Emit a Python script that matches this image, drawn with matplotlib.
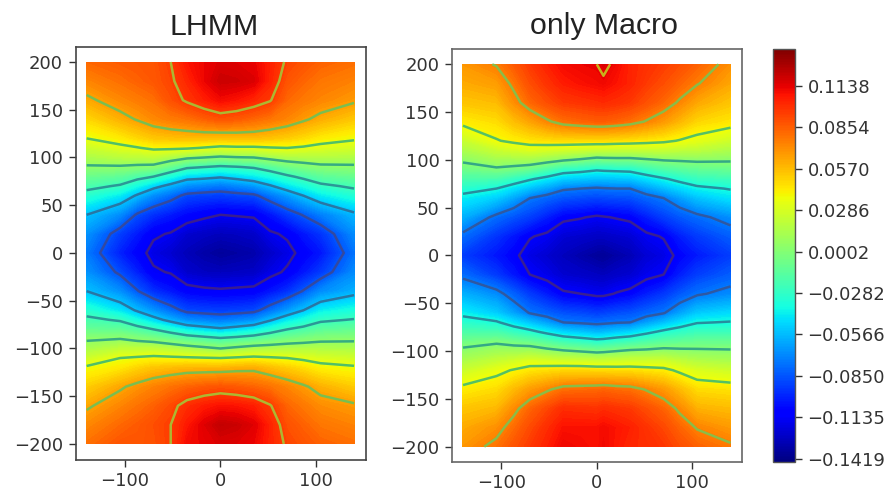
import numpy as np
import matplotlib
matplotlib.use("Agg")
import matplotlib.pyplot as plt
from matplotlib.cm import ScalarMappable
from matplotlib.colors import Normalize

titles = ["LHMM", "only Macro"]
y_rows = [200,180,160,140,120,110,100,90,80,70,60,40,20,0,-20,-40,-60,-70,-80,-90,-100,-110,-120,-140,-160,-180,-200]

# values, in thousandths, one list per x position
lhmm_x = [-140,-105,-87,-70,-52,-35,-17,0,17,35,52,70,87,105,140]
lhmm_m140 = [82,73,62,48,35,24,14,3,-9,-20,-32,-55,-68,-75,-68,-55,-32,-21,-10,3,13,25,37,51,63,72,80]
lhmm_m105 = [86,80,72,60,42,31,18,3,-13,-27,-44,-70,-92,-100,-88,-69,-45,-27,-12,5,20,35,43,63,73,82,88]
lhmm_m87 = [87,84,76,66,48,34,19,1,-19,-39,-57,-87,-102,-110,-100,-84,-57,-38,-18,1,20,37,49,69,79,86,88]
lhmm_m70 = [88,87,80,72,53,38,20,0,-25,-50,-70,-96,-113,-119,-113,-96,-68,-49,-25,-2,20,39,54,74,84,90,89]
lhmm_m52 = [95,93,89,76,55,38,14,-11,-37,-60,-79,-102,-116,-124,-116,-103,-79,-60,-34,-8,17,38,56,79,91,95,95]
lhmm_m35 = [107,102,97,79,56,37,8,-22,-48,-70,-89,-108,-124,-130,-125,-110,-89,-70,-43,-14,13,37,58,83,100,106,110]
lhmm_m17 = [112,112,104,84,56,34,5,-25,-50,-73,-91,-112,-127,-134,-128,-112,-91,-73,-48,-18,9,36,58,86,105,115,113]
lhmm_0 = [116,120,110,88,55,31,2,-28,-53,-76,-92,-115,-129,-137,-129,-113,-92,-76,-52,-22,5,35,58,88,108,122,116]
lhmm_p17 = [115,119,107,86,56,32,4,-26,-49,-72,-90,-114,-128,-135,-128,-112,-91,-73,-48,-19,9,37,60,86,107,120,115]
lhmm_p35 = [113,116,102,82,56,32,5,-23,-44,-67,-88,-113,-126,-133,-127,-111,-89,-69,-43,-15,13,39,61,83,104,115,112]
lhmm_p52 = [104,103,96,78,54,34,10,-16,-37,-57,-77,-104,-117,-126,-119,-104,-78,-57,-34,-10,14,37,56,79,96,103,103]
lhmm_p70 = [93,88,82,73,51,35,14,-8,-28,-46,-66,-93,-113,-119,-113,-96,-66,-45,-25,-5,15,35,51,73,83,89,93]
lhmm_p87 = [88,83,77,67,47,33,15,-3,-21,-38,-55,-84,-103,-111,-103,-84,-55,-37,-20,-2,15,32,46,67,77,84,88]
lhmm_p105 = [84,78,73,61,42,30,16,1,-14,-29,-44,-74,-95,-103,-93,-70,-43,-28,-14,1,15,29,40,60,71,78,84]
lhmm_p140 = [80,74,67,53,37,27,15,2,-10,-22,-34,-58,-70,-77,-70,-60,-36,-24,-11,2,14,26,37,52,67,74,80]
lhmm_levels = [-115,-85,-55,-25,5,35,65,95]

macro_x = [-140,-105,-87,-70,-52,-35,-17,0,7,21,35,52,70,87,105,140]
macro_m140 = [68,62,54,42,23,14,3,-8,-20,-32,-43,-60,-79,-92,-79,-60,-42,-31,-19,-7,4,14,24,42,54,62,68]
macro_m105 = [76,66,57,47,37,23,11,-3,-21,-38,-52,-79,-95,-103,-93,-70,-52,-36,-20,-3,10,22,34,47,58,70,79]
macro_m87 = [86,78,70,56,41,27,11,-6,-28,-47,-63,-86,-103,-110,-103,-82,-64,-46,-27,-7,10,26,39,57,71,81,88]
macro_m70 = [96,90,82,64,44,30,11,-10,-36,-56,-75,-92,-112,-119,-113,-93,-76,-55,-33,-10,11,30,44,66,83,91,96]
macro_m52 = [104,98,90,73,46,28,7,-19,-44,-64,-81,-101,-116,-124,-118,-102,-82,-65,-42,-17,6,28,46,73,92,100,104]
macro_m35 = [110,105,96,80,47,26,2,-29,-52,-73,-86,-110,-123,-129,-124,-111,-87,-75,-50,-24,2,26,48,80,100,108,112]
macro_m17 = [112,108,98,83,47,24,-2,-32,-54,-75,-88,-112,-125,-133,-126,-113,-89,-77,-54,-28,-1,25,48,81,99,108,110]
macro_0 = [113,110,100,85,47,22,-7,-36,-56,-77,-90,-115,-127,-137,-128,-116,-92,-79,-58,-32,-4,23,47,82,98,108,108]
macro_p7 = [116,111,101,85,47,22,-6,-35,-56,-76,-89,-114,-127,-138,-129,-116,-91,-78,-57,-31,-3,23,47,83,100,110,111]
macro_p21 = [110,107,99,83,46,21,-5,-34,-55,-75,-88,-112,-125,-134,-126,-112,-88,-76,-53,-27,0,24,46,81,98,107,106]
macro_p35 = [103,103,96,80,45,21,-5,-33,-54,-75,-87,-110,-123,-131,-124,-109,-86,-75,-50,-24,3,25,46,80,96,104,102]
macro_p52 = [99,96,89,74,43,22,-2,-26,-47,-66,-81,-101,-116,-123,-117,-101,-81,-65,-42,-19,4,25,44,74,90,98,100]
macro_p70 = [95,90,82,67,41,22,1,-19,-40,-57,-75,-92,-112,-119,-113,-94,-76,-56,-34,-14,6,25,42,67,83,92,97]
macro_p87 = [90,83,73,58,37,20,2,-15,-33,-49,-65,-85,-101,-109,-101,-85,-64,-47,-29,-12,4,20,35,57,72,83,90]
macro_p105 = [84,76,63,49,33,19,3,-12,-27,-42,-55,-79,-93,-102,-92,-77,-53,-39,-25,-10,3,16,29,47,60,74,84]
macro_p140 = [70,63,54,44,25,14,2,-10,-24,-37,-46,-69,-83,-92,-83,-70,-48,-37,-24,-10,2,13,25,45,57,67,77]
macro_levels = [-113,-75,-38,0,38,75,113]

cbar_ticks = [0.1138,0.0854,0.0570,0.0286,0.0002,-0.0282,-0.0566,-0.0850,-0.1135,-0.1419]
cbar_labels = ["0.1138","0.0854","0.0570","0.0286","0.0002","\u22120.0282","\u22120.0566","\u22120.0850","\u22120.1135","\u22120.1419"]
x_ticks = [-100,0,100]
y_ticks = [-200,-150,-100,-50,0,50,100,150,200]

W, H = 893, 495
fig = plt.figure(figsize=(W/100, H/100), dpi=100)
def box(l, t, r, b):
    return [l/W, 1-b/H, (r-l)/W, (b-t)/H]

norm = Normalize(-0.144, 0.139)
fill_levels = np.linspace(-0.144, 0.139, 180)
lhmm_z = np.column_stack([lhmm_m140,lhmm_m105,lhmm_m87,lhmm_m70,lhmm_m52,lhmm_m35,lhmm_m17,lhmm_0,
                          lhmm_p17,lhmm_p35,lhmm_p52,lhmm_p70,lhmm_p87,lhmm_p105,lhmm_p140])/1000
macro_z = np.column_stack([macro_m140,macro_m105,macro_m87,macro_m70,macro_m52,macro_m35,macro_m17,macro_0,macro_p7,
                           macro_p21,macro_p35,macro_p52,macro_p70,macro_p87,macro_p105,macro_p140])/1000

panels = [
    (box(75.5,47.3,366,460), lhmm_x, lhmm_z, lhmm_levels, (-151.7,152.5), (-216.8,215.4), "#444444", 214, 35),
    (box(452,49,742,461.5), macro_x, macro_z, macro_levels, (-151.5,152), (-215.5,216), "#666666", 604.5, 34),
]
for title, (pos, xs, z, lv, xl, yl, sc, tx, ty) in zip(titles, panels):
    ax = fig.add_axes(pos)
    ax.contourf(xs, y_rows, z, levels=fill_levels, cmap="jet", norm=norm, extend="both")
    ax.contour(xs, y_rows, z, levels=np.array(lv)/1000, cmap="viridis", norm=norm, linewidths=1.8, alpha=0.8)
    ax.set_xlim(*xl); ax.set_ylim(*yl)
    ax.set_xticks(x_ticks); ax.set_yticks(y_ticks)
    ax.tick_params(labelsize=13, length=5, width=1.0, color="#333333", labelcolor="#333333", pad=4)
    for s in ax.spines.values():
        s.set_color(sc); s.set_linewidth(1.2)
    fig.text(tx/W, 1-ty/H, title, ha="center", va="baseline", fontsize=21.8,
             family="Liberation Sans", color="#222222")

cax = fig.add_axes(box(773,49,795,462))
cb = fig.colorbar(ScalarMappable(norm=norm, cmap="jet"), cax=cax, ticks=cbar_ticks)
cb.ax.set_yticklabels(cbar_labels)
cb.ax.tick_params(labelsize=13, length=5, width=1.0, color="#333333", labelcolor="#333333", pad=4)
cb.outline.set_edgecolor("#555555"); cb.outline.set_linewidth(1.0)

fig.savefig("out.png", dpi=100)
